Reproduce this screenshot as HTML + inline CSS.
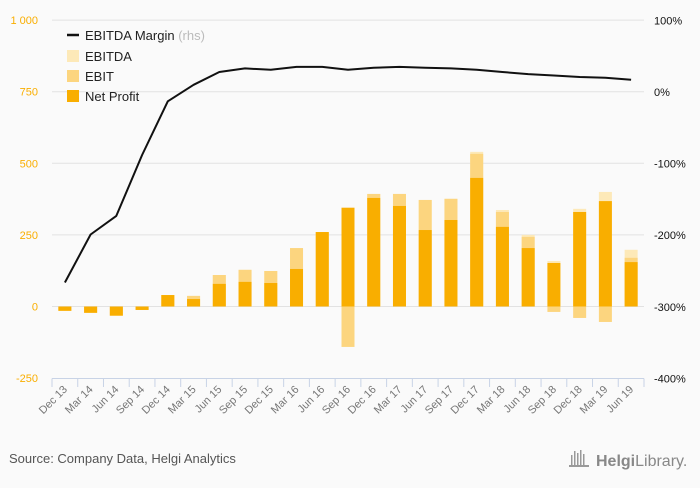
<!DOCTYPE html>
<html><head><meta charset="utf-8">
<style>
html,body{margin:0;padding:0;background:#fafafa;}
body{width:700px;height:483px;overflow:hidden;font-family:"Liberation Sans","DejaVu Sans",sans-serif;}
svg text{font-family:"Liberation Sans","DejaVu Sans",sans-serif;}
</style></head>
<body>
<svg id="chart" width="700" height="483" viewBox="0 0 700 483" xmlns="http://www.w3.org/2000/svg">
<rect x="0" y="0" width="700" height="483" fill="#fafafa"/>
<g id="grid"></g><g id="bars"></g><g id="line"></g><g id="axes"></g>
<g>
<line x1="67" y1="35" x2="79" y2="35" stroke="#111" stroke-width="2.5"/>
<text x="85" y="40" font-size="13" fill="#222">EBITDA Margin <tspan fill="#bbb">(rhs)</tspan></text>
<rect x="67" y="50" width="12" height="12" fill="#fde9b8"/>
<text x="85" y="61" font-size="13" fill="#222">EBITDA</text>
<rect x="67" y="70" width="12" height="12" fill="#fcd57f"/>
<text x="85" y="81" font-size="13" fill="#222">EBIT</text>
<rect x="67" y="90" width="12" height="12" fill="#f9ae00"/>
<text x="85" y="101" font-size="13" fill="#222">Net Profit</text>
</g>
<text x="9" y="463" font-size="13" fill="#555">Source: Company Data, Helgi Analytics</text>
<g>
<g fill="#999"><rect x="571" y="455" width="1.5" height="10"/><rect x="574" y="451" width="1.5" height="14"/><rect x="577" y="453" width="1.5" height="12"/><rect x="580" y="450" width="1.5" height="15"/><rect x="583" y="454" width="1.5" height="11"/><rect x="569" y="465" width="20" height="2"/></g>
<text x="596" y="466" font-size="16" fill="#888" font-family="Liberation Serif"><tspan font-weight="bold">Helgi</tspan>Library.</text>
</g>
</svg>
<script>
const categories=["Dec 13","Mar 14","Jun 14","Sep 14","Dec 14","Mar 15","Jun 15","Sep 15","Dec 15","Mar 16","Jun 16","Sep 16","Dec 16","Mar 17","Jun 17","Sep 17","Dec 17","Mar 18","Jun 18","Sep 18","Dec 18","Mar 19","Jun 19"];
const ebitda=[-15,-22,-32,-12,40,37,110,128,124,204,260,-141,393,393,372,376,540,337,250,159,341,400,198];
const ebit=[-15,-22,-32,-12,40,37,110,128,124,204,260,-141,393,393,372,376,533,330,243,-19,-40,-54,170];
const netProfit=[-15,-22,-32,-12,40,26,79,86,82,131,260,345,379,351,267,302,449,278,204,152,330,368,155];
const margin=[-266,-199,-173,-88,-13,10,28,33,31,35,35,31,34,35,34,33,31,28,25,23,21,20,17];
const leftTicks=[-250,0,250,500,750,1000];
const leftTickLabels=["-250","0","250","500","750","1 000"];
const rightTicks=[-400,-300,-200,-100,0,100];
const rightTickLabels=["-400%","-300%","-200%","-100%","0%","100%"];

const NS="http://www.w3.org/2000/svg";
const X0=52,X1=644,BW=(X1-X0)/categories.length;
function xC(i){return X0+BW*(i+0.5);}
function yL(v){return 306.5-(v/250)*71.6;}
function yR(v){return 92-(v/100)*71.6;}
function mk(tag,attrs,parent){const e=document.createElementNS(NS,tag);for(const k in attrs)e.setAttribute(k,attrs[k]);document.getElementById(parent).appendChild(e);return e;}

leftTicks.forEach((t,i)=>{
  if(t!==-250){const g=mk('line',{x1:X0,x2:X1,y1:yL(t),y2:yL(t),stroke:'#e2e2e2','stroke-width':1},'grid');
  
  }
  const tx=mk('text',{x:38,y:yL(t)+4,'text-anchor':'end','font-size':11,fill:'#f9ae00'},'axes');
  tx.textContent=leftTickLabels[i];
  
  
});
rightTicks.forEach((t,i)=>{
  const tx=mk('text',{x:654,y:yR(t)+4,'font-size':11,fill:'#111'},'axes');
  tx.textContent=rightTickLabels[i];
  
  
});
const ax=mk('line',{x1:X0,x2:X1,y1:378.5,y2:378.5,stroke:'#c8d3e6','stroke-width':1},'axes');


for(let i=0;i<=categories.length;i++){
  const tk=mk('line',{x1:X0+BW*i,x2:X0+BW*i,y1:378.5,y2:387,stroke:'#c8d3e6'},'axes');
  
  
}
categories.forEach((c,i)=>{
  const x=xC(i)+3,y=390;
  const tx=mk('text',{x:x,y:y,'text-anchor':'end','font-size':11,fill:'#777',transform:`rotate(-45 ${x} ${y})`},'axes');
  tx.textContent=c;
  
  
});
function bar(v,i,color,name){
  const y0=yL(0),y1=yL(v);
  const r=mk('rect',{x:xC(i)-6.5,width:13,y:Math.min(y0,y1),height:Math.abs(y1-y0),fill:color},'bars');
  
  
}
categories.forEach((c,i)=>{
  bar(ebitda[i],i,'#fde9b8','bar-ebitda');
  bar(ebit[i],i,'#fcd57f','bar-ebit');
  bar(netProfit[i],i,'#f9ae00','bar-net-profit');
});
const pts=margin.map((v,i)=>xC(i).toFixed(1)+','+yR(v).toFixed(1)).join(' ');
const pl=mk('polyline',{points:pts,fill:'none',stroke:'#111','stroke-width':2,'stroke-linejoin':'round'},'line');


</script>
</body></html>
